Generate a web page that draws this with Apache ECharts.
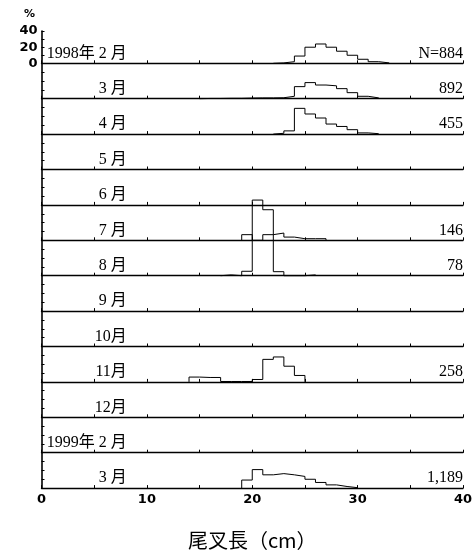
<!DOCTYPE html>
<html><head><meta charset="utf-8">
<script src="https://cdn.jsdelivr.net/npm/echarts@6/dist/echarts.min.js"></script>
<style>html,body{margin:0;padding:0;background:#fff}#c{width:476px;height:555px}</style>
</head><body><div id="c"></div>
<script>
// ---- data ----
const rowLabels = ['1998年 2 月','3 月','4 月','5 月','6 月','7 月','8 月','9 月','10月','11月','12月','1999年 2 月','3 月'];
const sampleSizes = ['N=884','892','455','','','146','78','','','258','','','1,189'];
// lower edge (cm) of the first 1-cm bin of each month
const binStarts = [22, 15, 22, 0, 0, 19, 17, 0, 0, 14, 0, 0, 19];
const feb1998 = [0.5, 2, 9, 20, 24, 20, 15, 10, 5, 2, 0.5];
const mar1998 = [0.3, 0.3, 0.5, 0.5, 0.8, 1, 1, 1.2, 3, 15, 20, 17, 16, 12.5, 7.5, 3, 1];
const apr1998 = [1, 4, 32, 25, 20, 12.5, 9.5, 5.5, 1.5, 0.5];
const may1998 = [];
const jun1998 = [];
const jul1998 = [7, 0, 7, 9, 4, 2, 2, 2];
const aug1998 = [1, 0, 5.5, 94, 82, 5, 0, 0, 1];
const sep1998 = [];
const oct1998 = [];
const nov1998 = [6, 5.5, 5.5, 0.5, 0.5, 0.5, 3, 28, 31, 19.5, 8];
const dec1998 = [];
const feb1999 = [];
const mar1999 = [10, 23, 16.5, 18, 16.5, 14.5, 11, 7, 4, 2, 0.5];
const rowValues = [feb1998, mar1998, apr1998, may1998, jun1998, jul1998, aug1998, sep1998, oct1998, nov1998, dec1998, feb1999, mar1999];
const xTickLabels = [0, 10, 20, 30, 40];
const yTickLabels = [0, 20, 40];
const xAxisTitle = '尾叉長（cm）';
const yUnit = '%';

// ---- layout ----
const LEFT = 41.5, RIGHT_X = 463, FIRST_BASE = 63.3, ROW_H = 35.4;
const ROW_MAX = 44, TOP_MAX = 40;
const PX = ROW_H / ROW_MAX;
const nRows = rowLabels.length;

function outline(start, vals) {
  if (!vals.length) return [];
  const pts = [[start, 0]];
  vals.forEach((v, i) => { pts.push([start + i, v]); pts.push([start + i + 1, v]); });
  pts.push([start + vals.length, 0]);
  return pts;
}

const grids = [], xAxes = [], yAxes = [], series = [];
for (let r = 0; r < nRows; r++) {
  const top = r === 0 ? FIRST_BASE - TOP_MAX * PX : FIRST_BASE + (r - 1) * ROW_H;
  const h = r === 0 ? TOP_MAX * PX : ROW_H;
  grids.push({left: LEFT, top: top, width: RIGHT_X - LEFT, height: h, containLabel: false, outerBoundsMode: 'none'});
  const last = r === nRows - 1;
  xAxes.push({
    type: 'value', gridIndex: r, min: 0, max: 40, interval: 5,
    axisLine: {show: true, onZero: false, lineStyle: {color: '#000', width: 1.4}},
    axisTick: {show: true, inside: true, length: 3, lineStyle: {color: '#000', width: 1}},
    splitLine: {show: false},
    axisLabel: {show: last, margin: 5, color: '#000', fontFamily: 'DejaVu Sans', fontWeight: 'bold', fontSize: 13,
      formatter: v => xTickLabels.includes(v) ? String(v) : ''},
    name: last ? xAxisTitle : '', nameLocation: 'middle', nameGap: 42,
    nameTextStyle: {color: '#000', fontFamily: 'Noto Sans CJK JP', fontSize: 20}
  });
  yAxes.push({
    type: 'value', gridIndex: r, min: 0, max: r === 0 ? TOP_MAX : ROW_MAX, interval: r === 0 ? 10 : 11,
    axisLine: {show: true, onZero: false, lineStyle: {color: '#000', width: 1.6}},
    axisTick: {show: true, inside: true, length: 3, lineStyle: {color: '#000', width: 1}},
    splitLine: {show: false},
    axisLabel: {show: r === 0, margin: 4, color: '#000', fontFamily: 'DejaVu Sans', fontWeight: 'bold', fontSize: 13,
      formatter: v => yTickLabels.includes(v) ? String(v) : ''}
  });
  series.push({
    type: 'line', xAxisIndex: r, yAxisIndex: r, data: outline(binStarts[r], rowValues[r]),
    symbol: 'none', clip: false, animation: false, z: 5,
    lineStyle: {color: '#000', width: 1}
  });
}

const chart = echarts.init(document.getElementById('c'), null, {renderer: 'canvas'});
chart.setOption({animation: false, backgroundColor: '#fff', grid: grids, xAxis: xAxes, yAxis: yAxes, series: series});

const texts = [];
const serif = "'Liberation Serif','Noto Sans CJK JP',serif";
for (let r = 0; r < nRows; r++) {
  const base = chart.convertToPixel({gridIndex: r}, [0, 0]);
  const lp = chart.convertToPixel({gridIndex: r}, [8.1, 0]);
  const rp = chart.convertToPixel({gridIndex: r}, [40, 0]);
  texts.push({type: 'text', x: lp[0], y: base[1] - 10, style: {text: rowLabels[r], fill: '#000', font: '16px ' + serif, textAlign: 'right', textVerticalAlign: 'middle'}});
  if (sampleSizes[r]) texts.push({type: 'text', x: rp[0], y: base[1] - 10, style: {text: sampleSizes[r], fill: '#000', font: '16px ' + serif, textAlign: 'right', textVerticalAlign: 'middle'}});
}
const tp = chart.convertToPixel({gridIndex: 0}, [0, TOP_MAX]);
texts.push({type: 'text', x: tp[0] - 12, y: tp[1] - 17, style: {text: yUnit, fill: '#000', font: 'bold 11px DejaVu Sans', textAlign: 'center', textVerticalAlign: 'middle'}});
chart.setOption({graphic: texts});
</script></body></html>
